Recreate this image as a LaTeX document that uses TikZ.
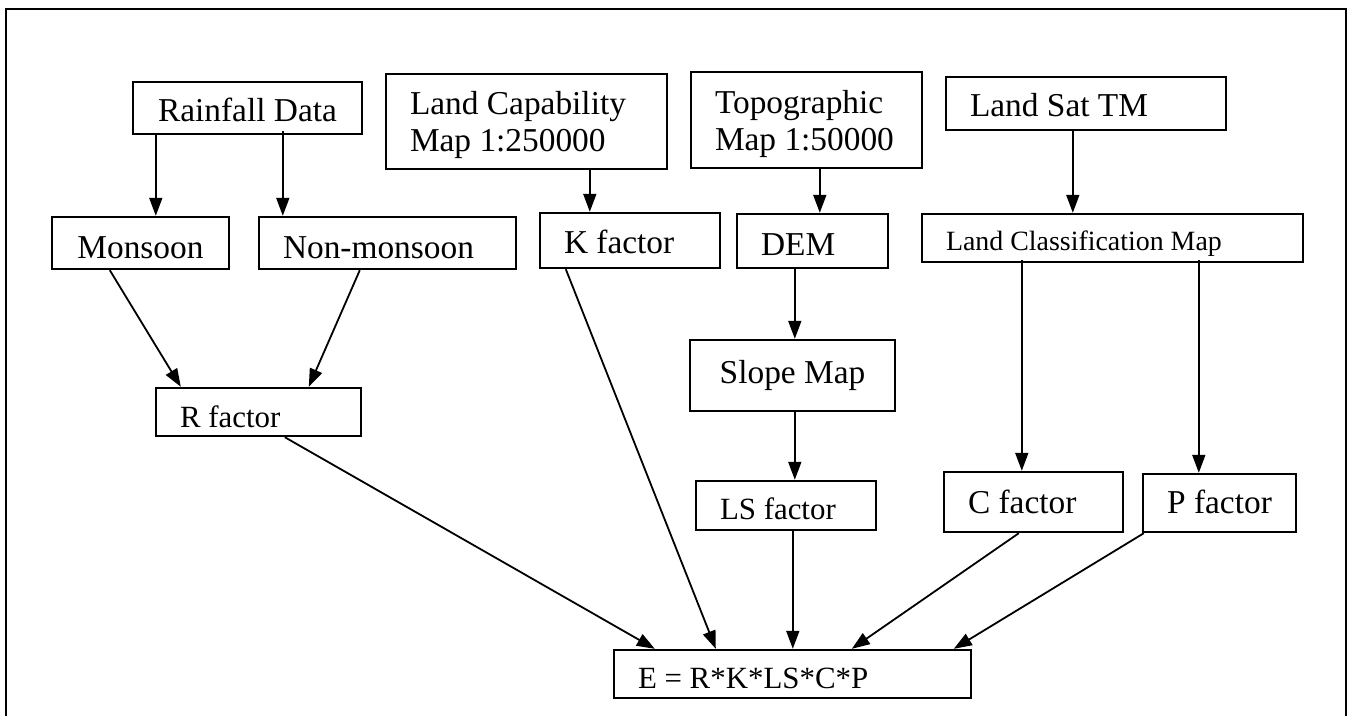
\documentclass[tikz,border=0pt]{standalone}
\usepackage{fontspec}
\setmainfont{Liberation Serif}
\usetikzlibrary{arrows.meta}
\tikzset{
  bx/.style={draw, line width=2.4bp, inner xsep=24bp, inner ysep=0pt, font=\fontsize{33.5}{37}\selectfont},
  bl/.style={text height=#1, text depth=0pt},
  twoline/.style={text height=0bp, text depth=13bp},
  arr/.style={line width=1.8bp, -{Triangle[length=18bp,width=13bp]}},
  frame/.style={line width=2.8bp}
}
\newcommand{\lft}[2]{\makebox[#1][l]{#2}}
\newcommand{\two}[2]{\begin{tabular}[t]{@{}l@{}}#1\\#2\end{tabular}}
\begin{document}
\begin{tikzpicture}[x=1bp,y=-1bp]
\useasboundingbox (0,0) rectangle (1349,716);
\fill[white] (0,0) rectangle (1349,716);
\draw[frame] (6,716) -- (6,9) -- (1346,9) -- (1346,716);

\node[bx, bl=28bp, minimum width=229bp, minimum height=52bp] (rain) at (247.5,108) {Rainfall Data};
\node[bx, twoline, minimum width=281bp, minimum height=95bp] (landcap) at (526.5,121.5) {\lft{233bp}{\two{Land Capability}{Map 1:250000}}};
\node[bx, twoline, minimum width=231bp, minimum height=96bp] (topo) at (806.5,120) {\lft{183bp}{\two{Topographic}{Map 1:50000}}};
\node[bx, bl=27bp, minimum width=280bp, minimum height=53bp] (landsat) at (1086,103.5) {\lft{232bp}{Land Sat TM}};
\node[bx, bl=30bp, minimum width=177bp, minimum height=52bp] (mon) at (140.5,243) {Monsoon};
\node[bx, bl=30bp, minimum width=257bp, minimum height=52bp] (nonmon) at (387.5,243) {\lft{209bp}{Non-monsoon}};
\node[bx, bl=25bp, minimum width=180bp, minimum height=55bp] (kf) at (630,240.5) {\lft{132bp}{K factor}};
\node[bx, bl=28bp, minimum width=151bp, minimum height=54bp] (dem) at (812.5,241) {\lft{103bp}{DEM}};
\node[bx, bl=24bp, minimum width=381bp, minimum height=48bp, font=\fontsize{28}{32}\selectfont] (lcm) at (1112.5,238) {\lft{333bp}{Land Classification Map}};
\node[bx, minimum width=205bp, minimum height=71bp] (slope) at (792.5,375.5) {Slope Map};
\node[bx, bl=27bp, minimum width=180bp, minimum height=49bp, font=\fontsize{31}{35}\selectfont] (ls) at (786,505.5) {\lft{132bp}{LS factor}};
\node[bx, bl=22bp, minimum width=179bp, minimum height=60bp] (cf) at (1033.5,502) {\lft{131bp}{C factor}};
\node[bx, bl=20bp, minimum width=153bp, minimum height=58bp] (pf) at (1219.5,503) {P factor};
\node[bx, bl=30bp, minimum width=205bp, minimum height=48bp, font=\fontsize{31}{35}\selectfont] (rf) at (258.5,412) {\lft{157bp}{R factor}};
\node[bx, bl=28bp, minimum width=357bp, minimum height=48bp, font=\fontsize{31}{35}\selectfont] (ef) at (792.5,674) {\lft{309bp}{E = R*K*LS*C*P}};

\draw[arr] ([xshift=24bp]rain.south west) -- ([xshift=24bp]rain.south west |- mon.north);
\draw[arr] ([xshift=151bp,yshift=4bp]rain.south west) -- ([xshift=151bp]rain.south west |- nonmon.north);
\draw[arr] ([xshift=205bp]landcap.south west) -- ([xshift=205bp]landcap.south west |- kf.north);
\draw[arr] ([xshift=130bp]topo.south west) -- ([xshift=130bp]topo.south west |- dem.north);
\draw[arr] ([xshift=128bp]landsat.south west) -- ([xshift=128bp]landsat.south west |- lcm.north);
\draw[arr] ([xshift=59bp]dem.south west) -- ([xshift=59bp]dem.south west |- slope.north);
\draw[arr] ([xshift=106bp]slope.south west) -- ([xshift=106bp]slope.south west |- ls.north);
\draw[arr] ([xshift=101bp,yshift=3bp]lcm.south west) -- ([xshift=101bp]lcm.south west |- cf.north);
\draw[arr] ([xshift=278bp,yshift=3bp]lcm.south west) -- ([xshift=278bp]lcm.south west |- pf.north);
\draw[arr] ([xshift=59bp]mon.south west) -- ([xshift=26bp]rf.north west);
\draw[arr] ([xshift=102bp]nonmon.south west) -- ([xshift=154bp]rf.north west);
\draw[arr] ([xshift=27bp]kf.south west) -- ([xshift=103bp]ef.north west);
\draw[arr] ([xshift=130bp]rf.south west) -- ([xshift=42bp]ef.north west);
\draw[arr] ([xshift=98bp]ls.south west) -- ([xshift=98bp]ls.south west |- ef.north);
\draw[arr] ([xshift=76bp]cf.south west) -- ([xshift=239bp]ef.north west);
\draw[arr] ([xshift=2bp]pf.south west) -- ([xshift=341bp]ef.north west);
\end{tikzpicture}
\end{document}
